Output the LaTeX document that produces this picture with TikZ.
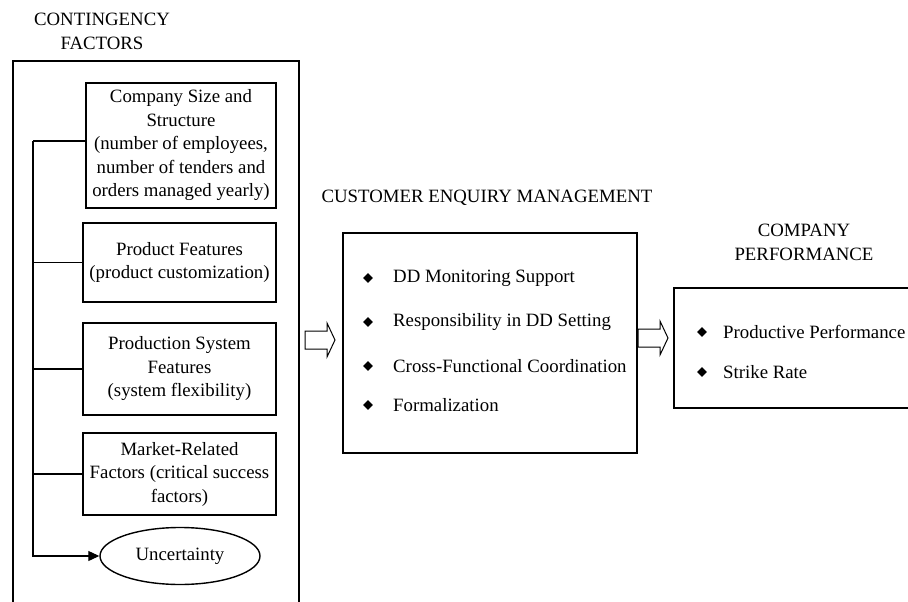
\documentclass[tikz,border=0pt]{standalone}
\usepackage{fontspec}
\setmainfont{Liberation Serif}
\usetikzlibrary{shapes.geometric,arrows.meta,calc}

\tikzset{
  boxline/.style={draw=black, line width=1.1pt},
  txt/.style={font=\fontsize{18.8}{23.5}\selectfont, inner sep=0pt},
  factor/.style={boxline, txt, align=center},
  bullet/.style={diamond, fill=black, inner sep=0pt, minimum size=10pt},
  item/.style={txt, anchor=west},
  link/.style={line width=1.1pt},
  hollowarrow/.pic={
    \draw[boxline, line width=1pt] (0,-9) -- (22,-9) -- (22,-17) -- (30,0)
      -- (22,17) -- (22,9) -- (0,9) -- cycle;
  }
}

\begin{document}
\begin{tikzpicture}[x=1pt, y=-1pt]
  \path[use as bounding box] (0,0) rectangle (908,602);
  \clip (0,0) rectangle (908,602);

  % ---- Contingency factors ----
  \node[txt, align=center] (cfhead) at (102,31.5) {CONTINGENCY\\FACTORS};
  \draw[boxline] (13,61) rectangle (299,640);

  \node[factor, minimum width=190pt, minimum height=125pt] (b1) at (181,145.5)
    {Company Size and\\Structure\\(number of employees,\\number of tenders and\\orders managed yearly)};
  \node[factor, minimum width=193pt, minimum height=79pt] (b2) at (179.5,262.5)
    {Product Features\\(product customization)};
  \node[factor, minimum width=193pt, minimum height=92pt] (b3) at (179.5,369)
    {Production System\\Features\\(system flexibility)};
  \node[factor, minimum width=193pt, minimum height=82pt] (b4) at (179.5,474)
    {Market-Related\\Factors (critical success\\factors)};
  \node[ellipse, draw=black, line width=1.4pt, txt, minimum width=160pt,
        minimum height=57pt] (unc) at (180,556) {Uncertainty};

  % trunk line linking the factors to uncertainty
  \coordinate (t1) at (33,141);
  \draw[link] (t1 -| b1.west) -- (t1);
  \draw[link, -{Triangle[length=11pt,width=10pt]}] (t1) |- (unc.west);
  \draw[link] (t1 |- b2.west) -- (b2.west);
  \draw[link] (t1 |- b3.west) -- (b3.west);
  \draw[link] (t1 |- b4.west) -- (b4.west);

  % ---- Customer enquiry management ----
  \node[txt] (cemhead) at (487,198) {CUSTOMER ENQUIRY MANAGEMENT};
  \node[boxline, minimum width=294pt, minimum height=220pt, inner sep=0pt] (cem) at (490,343) {};
  \foreach \y/\t [count=\i] in {278/DD Monitoring Support,
                                322/Responsibility in DD Setting,
                                366/Cross-Functional Coordination,
                                405/Formalization}{
    \node[bullet] (cemb\i) at (368,\y) {};
    \node[item] (cemt\i) at (393,\y) {\t};
  }

  % ---- Company performance ----
  \node[txt, align=center] (cphead) at (804,242.5) {COMPANY\\PERFORMANCE};
  \draw[boxline] (674,288) rectangle (960,408);
  \foreach \y/\t [count=\i] in {332/Productive Performance, 372/Strike Rate}{
    \node[bullet] (cpb\i) at (702,\y) {};
    \node[item] (cpt\i) at (723,\y) {\t};
  }

  % ---- block arrows between the stages ----
  \pic at (305,340) {hollowarrow};
  \pic at (638,338) {hollowarrow};
\end{tikzpicture}
\end{document}
